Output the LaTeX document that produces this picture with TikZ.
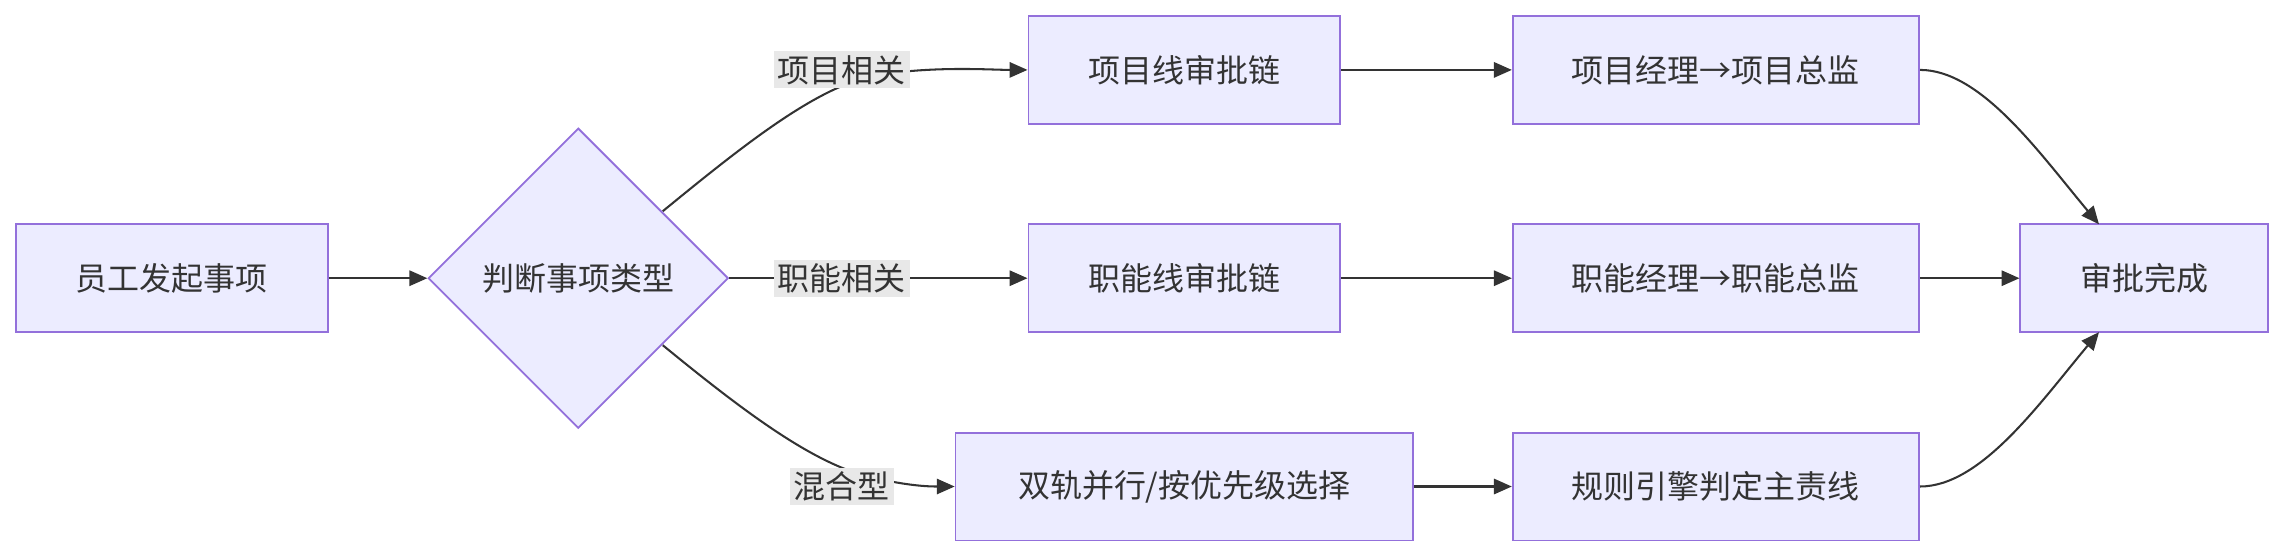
\documentclass[tikz,border=0pt]{standalone}
\usepackage{fontspec}
\setmainfont{Noto Sans CJK SC}
\usetikzlibrary{arrows.meta,shapes.geometric}
\definecolor{nfill}{HTML}{ECECFF}
\definecolor{nstroke}{HTML}{9370DB}
\definecolor{ln}{HTML}{333333}
\definecolor{lbl}{HTML}{E8E8E8}
\begin{document}
\begin{tikzpicture}[x=0.02cm,y=-0.02cm,
  box/.style={draw=nstroke,fill=nfill,line width=0.7pt,minimum height=74*0.02cm,inner sep=0pt,text=ln,font=\fontsize{12.5}{14}\selectfont},
  lab/.style={fill=lbl,inner sep=1.5pt,text=ln,font=\fontsize{12.5}{14}\selectfont},
  arr/.style={draw=ln,line width=0.8pt,-{Triangle[length=7pt,width=6pt]}},
  ln/.style={draw=ln,line width=0.8pt}]
\useasboundingbox (0,0) rectangle (1568,381);
\node[box,minimum width=214*0.02cm] (A) at (118,191) {员工发起事项};
\node[draw=nstroke,fill=nfill,line width=0.7pt,diamond,minimum width=206*0.02cm,minimum height=206*0.02cm,inner sep=0pt,text=ln,font=\fontsize{12.5}{14}\selectfont] (B) at (397,191) {判断事项类型};
\node[box,minimum width=214*0.02cm] (C) at (813,48) {项目线审批链};
\node[box,minimum width=214*0.02cm] (D) at (813,191) {职能线审批链};
\node[box,minimum width=314*0.02cm] (E) at (813,334) {双轨并行/按优先级选择};
\node[box,minimum width=279*0.02cm] (F) at (1178,48) {项目经理→项目总监};
\node[box,minimum width=279*0.02cm] (G) at (1178,191) {职能经理→职能总监};
\node[box,minimum width=279*0.02cm] (H) at (1178,334) {规则引擎判定主责线};
\node[box,minimum width=170*0.02cm] (I) at (1472,191) {审批完成};
\coordinate (Bn) at (455,145);
\coordinate (Bs) at (455,237);
\coordinate (Ine) at (1441,154);
\coordinate (Ise) at (1441,228);
\draw[arr] (A) -- (B);
\draw[arr] (Bn) .. controls (510,100) and (560,60) .. (600,52) .. controls (640,45) and (680,48) .. (C.west);
\draw[arr] (B.east) -- (D.west);
\draw[arr] (Bs) .. controls (510,282) and (560,320) .. (600,328) .. controls (625,334) and (640,334) .. (E.west);
\node[lab] (L1) at (578,48) {项目相关};
\node[lab] (L2) at (578,191) {职能相关};
\node[lab] (L3) at (578,334) {混合型};
\draw[arr] (C) -- (F);
\draw[arr] (D) -- (G);
\draw[arr] (E) -- (H);
\draw[arr] (F.east) .. controls (1360,48) and (1400,105) .. (Ine);
\draw[arr] (G) -- (I);
\draw[arr] (H.east) .. controls (1360,334) and (1400,277) .. (Ise);
\end{tikzpicture}
\end{document}
